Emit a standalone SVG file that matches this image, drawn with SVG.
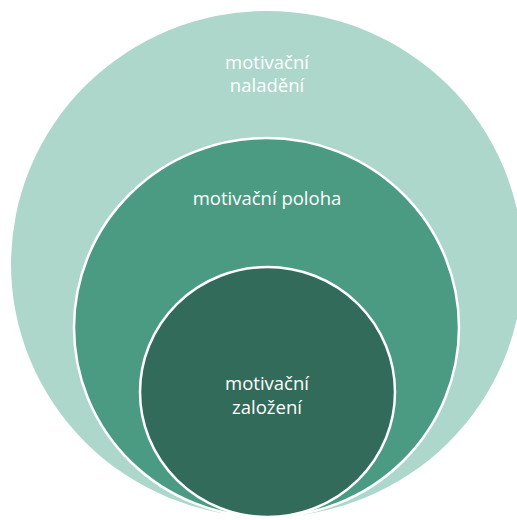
<svg xmlns="http://www.w3.org/2000/svg" width="517" height="520" viewBox="0 0 517 520">
<style>
.lbl{font-family:"Open Sans","Liberation Sans",sans-serif;font-size:18.5px;fill:#ffffff;text-anchor:middle}
</style>
<rect width="517" height="520" fill="#ffffff"/>
<g id="outer">
<ellipse cx="267" cy="264" rx="256" ry="253" fill="#acd7ca"/>
<text class="lbl" x="267" y="69">motivační</text>
<text class="lbl" x="267" y="92">naladění</text>
</g>
<g id="middle">
<ellipse cx="266.5" cy="327.5" rx="192.5" ry="189.5" fill="#4b9b82" stroke="#ffffff" stroke-width="2.5"/>
<text class="lbl" x="267" y="205">motivační poloha</text>
</g>
<g id="inner">
<ellipse cx="267.5" cy="392" rx="127.5" ry="125" fill="#326b59" stroke="#ffffff" stroke-width="2.5"/>
<text class="lbl" x="267" y="390">motivační</text>
<text class="lbl" x="267" y="414">založení</text>
</g>
<g id="connectors"></g>
</svg>
